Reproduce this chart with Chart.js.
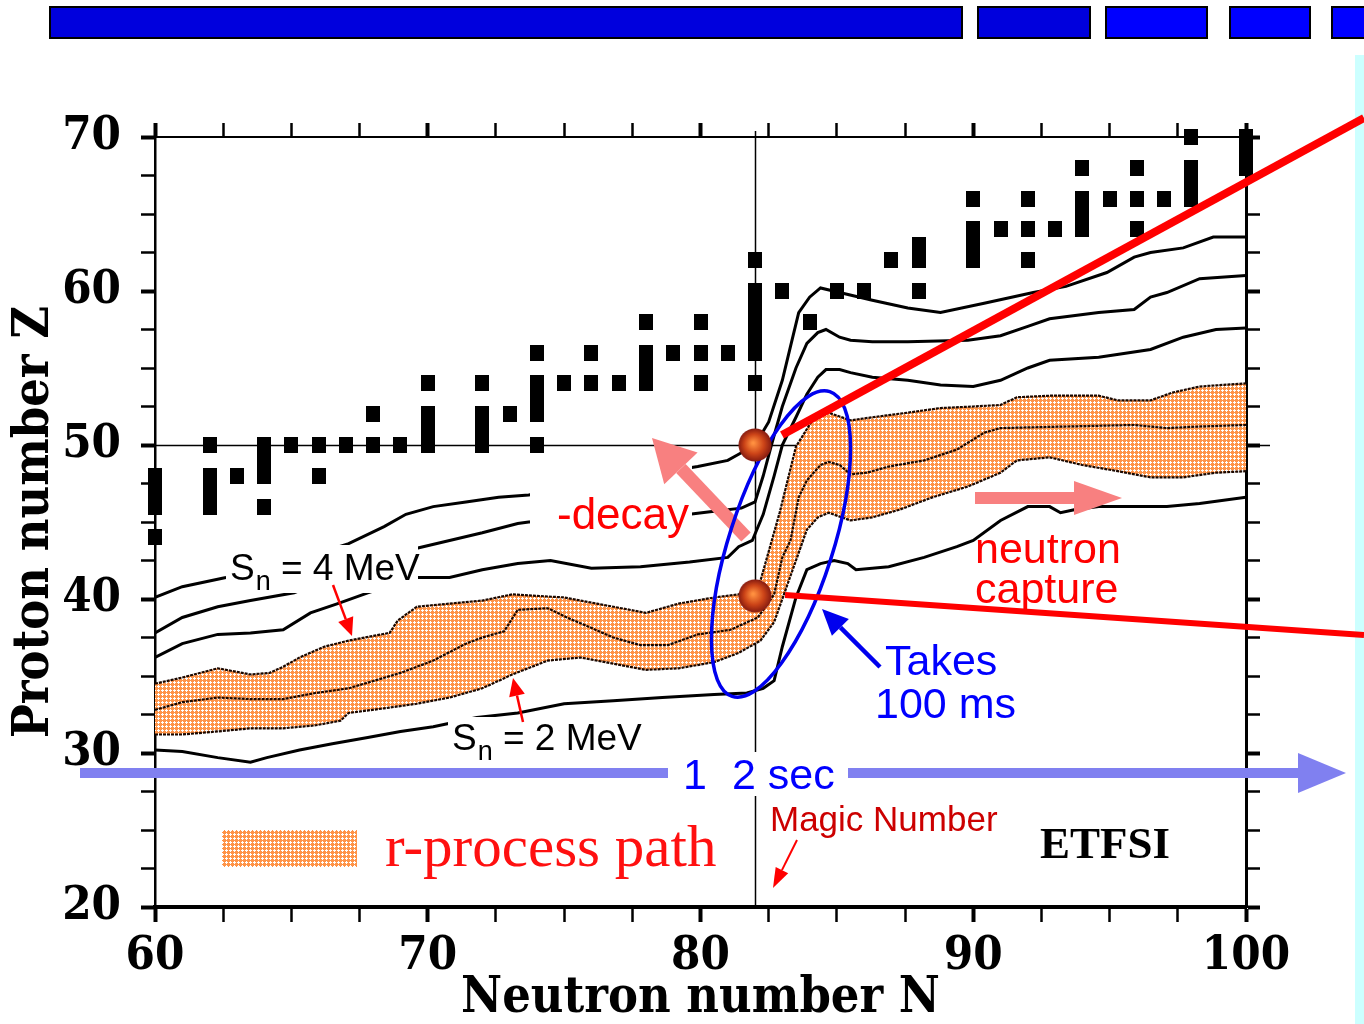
<!DOCTYPE html>
<html>
<head>
<meta charset="utf-8">
<script src="https://cdn.jsdelivr.net/npm/chart.js@4.4.1/dist/chart.umd.min.js"></script>
<style>
  html, body { margin: 0; padding: 0; background: #fff; }
</style>
</head>
<body>
<canvas id="chart" width="1364" height="1024"></canvas>
<script>
// S_n contour lines (neutron number N, proton number Z), top to bottom
const sn7N = [60, 61, 62.6, 64, 65.5, 67.1, 68.4, 69.2, 70.2, 71.4, 72.6, 73.7, 75.5, 77.5, 79.9, 81, 81.4, 82, 82.5, 83, 83.3, 83.6, 84, 84.4, 85.1, 86.3, 87.6, 88.8, 90.4, 92.2, 93.4, 94.9, 95.9, 96.5, 97.7, 98.8, 100];
const sn7Z = [40.1, 40.8, 41.4, 42.0, 42.7, 43.6, 44.7, 45.5, 46, 46.3, 46.6, 46.75, 47.3, 47.9, 48.6, 49, 49.4, 50, 51.5, 54.2, 56.4, 58.6, 59.6, 60.2, 59.9, 59.4, 58.9, 58.6, 59.2, 59.9, 60.3, 61.2, 62.2, 62.5, 62.8, 63.5, 63.5];

const sn6N = [60, 61, 62.3, 63.5, 65.1, 66.5, 68, 69.6, 70.8, 72, 73.3, 73.7, 76, 78, 79.6, 80.5, 81.5, 82, 82.3, 82.6, 83, 83.5, 83.9, 84.3, 84.6, 85.1, 85.5, 86.3, 87.6, 89.8, 91, 92, 92.8, 94.6, 95.9, 96.5, 97.1, 98.3, 100];
const sn6Z = [37.8, 38.8, 39.5, 39.9, 40.4, 41.4, 42.4, 43.3, 43.8, 44.3, 44.9, 45.0, 45.2, 45.4, 45.5, 45.7, 45.9, 46.3, 48, 50, 52.5, 55, 56.6, 57.3, 57.5, 57, 56.8, 56.7, 56.7, 56.8, 57.1, 57.7, 58.2, 58.6, 58.8, 59.6, 59.9, 60.8, 61];

const sn5N = [60, 61, 62.3, 63.5, 64.7, 65.7, 66.7, 67.8, 69.6, 70.8, 72, 73.3, 74.5, 76, 77.8, 79.6, 81, 81.4, 81.9, 82.3, 82.7, 83, 83.5, 83.9, 84.3, 84.6, 85.1, 85.5, 86.3, 87.6, 88.8, 90, 91, 92, 92.8, 94.6, 96.5, 97.7, 98.9, 100];
const sn5Z = [36.2, 37.1, 37.7, 37.8, 38, 39.1, 39.7, 40.4, 41.4, 41.4, 41.9, 42.3, 42.5, 42, 42.1, 42.4, 42.7, 43.4, 43.8, 45.5, 48, 50, 51.8, 53.3, 54.4, 54.9, 54.9, 54.7, 54.4, 54.2, 53.9, 53.8, 54.2, 55, 55.5, 55.7, 56.2, 57, 57.5, 57.6];

// r-process path: upper edge (4 MeV), middle (3 MeV), lower edge (2 MeV)
const sn4N = [60, 61, 62.3, 62.9, 63.5, 64.2, 64.7, 65.3, 66.2, 67.1, 68.6, 68.9, 69.6, 70.8, 72, 73.1, 75, 76.2, 78, 79.2, 80.5, 81.4, 82.2, 82.9, 83.5, 84.1, 84.7, 85.5, 86.3, 87.6, 88.8, 90, 91, 91.6, 92.8, 94.6, 95.3, 96.5, 97.3, 98.3, 100];
const sn4Z = [34.5, 34.9, 35.5, 35.3, 35.1, 35.2, 35.6, 36.2, 36.9, 37.3, 37.8, 38.6, 39.5, 39.7, 39.9, 40.3, 40.1, 39.7, 39.1, 39.7, 40.1, 40.3, 41.2, 45.6, 49.9, 51.6, 52.1, 51.6, 51.8, 52.1, 52.4, 52.5, 52.6, 53.1, 53.2, 53.2, 52.9, 52.9, 53.4, 53.8, 54];

const sn3N = [60, 61, 62.3, 63.5, 64.7, 65.9, 67.1, 69, 70.2, 71.4, 72, 72.8, 73.3, 74.4, 75.1, 75.9, 76.8, 77.8, 78.8, 79.9, 81.1, 82.1, 82.7, 83, 83.3, 83.6, 83.9, 84.4, 84.7, 85.1, 85.5, 86.1, 86.9, 88.2, 89.4, 90.4, 91, 93.4, 95.9, 97.1, 98.3, 100];
const sn3Z = [32.8, 33.3, 33.6, 33.5, 33.5, 33.9, 34.2, 35.2, 36, 37.1, 37.5, 37.9, 39.3, 39.4, 38.8, 38.2, 37.5, 37, 37, 37.7, 38, 38.8, 40.3, 42.7, 43.8, 46.6, 47.7, 48.7, 48.9, 48.7, 48.1, 48.2, 48.6, 49, 49.7, 50.8, 51.1, 51.2, 51.3, 51.1, 51.2, 51.3];

const sn2N = [60, 61, 62.3, 63.5, 64.7, 65.9, 66.8, 67.1, 68.4, 69.6, 70.8, 72, 73.1, 74.4, 75.6, 76.8, 78, 79.2, 80.5, 81.4, 82.2, 82.7, 83.1, 83.5, 83.9, 84.3, 84.7, 85.5, 86.3, 87.3, 88.5, 89.8, 91, 91.6, 92.8, 94, 95.3, 96.5, 97.7, 98.9, 100];
const sn2Z = [31.2, 31.2, 31.4, 31.6, 31.6, 31.8, 32.1, 32.6, 32.9, 33.2, 33.6, 34.2, 35.1, 36, 36.2, 35.8, 35.4, 35.5, 35.9, 36.5, 37.3, 38.5, 40.5, 42.5, 44.5, 45.3, 45.6, 45.1, 45.3, 45.8, 46.6, 47.3, 48.2, 49, 49.2, 48.7, 48.3, 47.9, 47.9, 48.2, 48.3];

const sn1N = [60, 61, 62.3, 63.5, 64.1, 65.3, 66.5, 67.8, 69, 70.2, 71.8, 73.3, 75, 76.8, 78.6, 80.5, 81.7, 82.3, 82.7, 83, 83.5, 83.9, 84.4, 84.9, 85.4, 85.7, 86.9, 88.2, 89.4, 90, 91, 92, 92.8, 93.2, 93.7, 94.6, 97.1, 98.3, 100];
const sn1Z = [30.2, 30.1, 29.7, 29.4, 29.7, 30.2, 30.6, 31, 31.4, 31.7, 32.3, 32.6, 33.2, 33.4, 33.6, 33.8, 33.9, 34.2, 34.7, 36.9, 40.1, 41.9, 42.3, 42.5, 42.3, 41.9, 42.1, 42.7, 43.4, 43.8, 45.1, 46, 46, 45.6, 45.8, 46, 46, 46.2, 46.6];

// stable nuclei (black squares)
const stableN = [60, 60, 62, 64, 60, 62, 60, 62, 63, 64, 66, 64,
  62, 64, 65, 66, 67, 68, 69, 70, 72, 74, 70, 72, 68, 70, 72, 73, 74, 74,
  70, 72, 74, 75, 76, 77, 78, 80, 82, 78, 74, 76, 78, 79, 80, 81, 82, 82,
  78, 80, 82, 84, 82, 82, 83, 85, 86, 88, 82, 87, 88, 90, 92, 88, 90,
  90, 91, 92, 93, 94, 96, 94, 90, 92, 94, 95, 96, 97, 98, 98, 94, 96, 98, 100, 100, 98, 100];
const stableZ = [44, 46, 46, 46, 47, 47, 48, 48, 48, 48, 48, 49,
  50, 50, 50, 50, 50, 50, 50, 50, 50, 50, 51, 51, 52, 52, 52, 52, 52, 53,
  54, 54, 54, 54, 54, 54, 54, 54, 54, 55, 56, 56, 56, 56, 56, 56, 56, 57,
  58, 58, 58, 58, 59, 60, 60, 60, 60, 60, 62, 62, 62, 62, 62, 63, 63,
  64, 64, 64, 64, 64, 64, 65, 66, 66, 66, 66, 66, 66, 66, 67, 68, 68, 68, 68, 69, 70, 70];

// waiting points at the magic number N = 82
const waitN = [82, 82];
const waitZ = [50, 40.2];

const xTicksMin = 60, xTicksMax = 100, yTicksMin = 20, yTicksMax = 70;

const pts = (ns, zs) => ns.map((n, i) => ({ x: n, y: zs[i] }));

const canvas = document.getElementById('chart');
const ctx0 = canvas.getContext('2d');

// orange cross-hatch used for the r-process band
function makeHatch() {
  const c = document.createElement('canvas');
  c.width = 4; c.height = 4;
  const g = c.getContext('2d');
  g.fillStyle = '#ff9448';
  g.fillRect(0, 0, 4, 4);
  g.fillStyle = '#ffffff';
  g.fillRect(2, 1, 1, 3);
  g.fillRect(1, 2, 3, 1);
  return ctx0.createPattern(c, 'repeat');
}
const hatch = makeHatch();

function makeSquare() {
  const c = document.createElement('canvas');
  c.width = 14; c.height = 16;
  const g = c.getContext('2d');
  g.fillStyle = '#000';
  g.fillRect(0, 0, 14, 16);
  return c;
}

function makeBall() {
  const c = document.createElement('canvas');
  c.width = 34; c.height = 34;
  const g = c.getContext('2d');
  const gr = g.createRadialGradient(15, 15, 1, 17, 17, 17);
  gr.addColorStop(0, '#ff9040');
  gr.addColorStop(0.55, '#cc4418');
  gr.addColorStop(1, '#801810');
  g.fillStyle = gr;
  g.beginPath();
  g.arc(17, 17, 16.5, 0, Math.PI * 2);
  g.fill();
  return c;
}

function arrow(ctx, x1, y1, x2, y2, w, headLen, headHalf, color) {
  const a = Math.atan2(y2 - y1, x2 - x1);
  const bx = x2 - headLen * Math.cos(a), by = y2 - headLen * Math.sin(a);
  ctx.strokeStyle = color;
  ctx.lineWidth = w;
  ctx.lineCap = 'butt';
  ctx.beginPath(); ctx.moveTo(x1, y1); ctx.lineTo(bx, by); ctx.stroke();
  ctx.fillStyle = color;
  ctx.beginPath();
  ctx.moveTo(x2, y2);
  ctx.lineTo(bx + headHalf * Math.sin(a), by - headHalf * Math.cos(a));
  ctx.lineTo(bx - headHalf * Math.sin(a), by + headHalf * Math.cos(a));
  ctx.closePath();
  ctx.fill();
}

const SANS = '"Liberation Sans", Arial, sans-serif';
const SERIF = '"Liberation Serif", "Times New Roman", serif';

function snLabel(ctx, x, y, val) {
  ctx.fillStyle = '#000';
  ctx.textBaseline = 'alphabetic';
  ctx.textAlign = 'left';
  ctx.font = '37px ' + SANS;
  ctx.fillText('S', x, y);
  let w = ctx.measureText('S').width;
  ctx.font = '27px ' + SANS;
  ctx.fillText('n', x + w + 1, y + 10);
  w += ctx.measureText('n').width + 1;
  ctx.font = '37px ' + SANS;
  ctx.fillText(' = ' + val + ' MeV', x + w, y);
}

function text(ctx, s, x, y, font, color) {
  ctx.font = font;
  ctx.fillStyle = color;
  ctx.textAlign = 'left';
  ctx.textBaseline = 'alphabetic';
  ctx.fillText(s, x, y);
}

function drawNotes(chart) {
  const ctx = chart.ctx;
  ctx.save();

  // white boxes behind labels
  ctx.fillStyle = '#fff';
  ctx.fillRect(226, 545, 192, 48);
  ctx.fillRect(448, 717, 192, 44);
  ctx.fillRect(530, 466, 162, 74);

  snLabel(ctx, 230, 580, 4);
  snLabel(ctx, 452, 750, 2);
  arrow(ctx, 333, 585, 352, 636, 2.5, 18, 8, '#ff0000');
  arrow(ctx, 523, 722, 513, 678, 2.5, 18, 8, '#ff0000');

  text(ctx, '-decay', 557, 529, '44px ' + SANS, '#ff0000');
  arrow(ctx, 746, 537, 652, 438, 13, 42, 23, '#f88080');

  text(ctx, 'neutron', 975, 563, '43px ' + SANS, '#ff0000');
  text(ctx, 'capture', 975, 603, '43px ' + SANS, '#ff0000');
  arrow(ctx, 975, 498, 1122, 498, 12, 48, 17, '#f88080');

  // 100 ms ellipse round the N = 82 climb
  ctx.strokeStyle = '#0000ee';
  ctx.lineWidth = 3.5;
  ctx.beginPath();
  ctx.ellipse(781, 544, 52, 160, 0.31, 0, Math.PI * 2);
  ctx.stroke();
  text(ctx, 'Takes', 885, 675, '43px ' + SANS, '#0000ff');
  text(ctx, '100 ms', 875, 718, '43px ' + SANS, '#0000ff');
  arrow(ctx, 880, 667, 822, 609, 4.5, 26, 12, '#0000ee');

  // red zoom lines from the waiting points
  ctx.strokeStyle = '#ff0000';
  ctx.lineCap = 'butt';
  ctx.lineWidth = 8;
  ctx.beginPath(); ctx.moveTo(782, 435); ctx.lineTo(1364, 118); ctx.stroke();
  ctx.lineWidth = 6;
  ctx.beginPath(); ctx.moveTo(785, 595); ctx.lineTo(1364, 635); ctx.stroke();

  // time arrow
  arrow(ctx, 80, 773, 1346, 773, 10, 48, 20, '#8080f0');
  ctx.fillStyle = '#fff';
  ctx.fillRect(668, 752, 180, 44);
  text(ctx, '1', 683, 789, '43px ' + SANS, '#0000ff');
  text(ctx, '2 sec', 732, 789, '43px ' + SANS, '#0000ff');

  text(ctx, 'Magic Number', 770, 831, '35px ' + SANS, '#cc0000');
  arrow(ctx, 797, 840, 773, 888, 2, 20, 7, '#ff0000');

  ctx.fillStyle = hatch;
  ctx.fillRect(222, 830, 135, 37);
  text(ctx, 'r-process path', 385, 866, '59px ' + SERIF, '#ff1010');
  text(ctx, 'ETFSI', 1040, 858, 'bold 45px ' + SERIF, '#000');

  ctx.restore();
}

const decor = {
  id: 'decor',
  beforeDraw(chart) {
    const ctx = chart.ctx;
    ctx.save();
    ctx.fillStyle = '#fff';
    ctx.fillRect(0, 0, chart.width, chart.height);
    ctx.fillStyle = '#ccffff';
    ctx.fillRect(1355, 55, 9, chart.height - 55);
    ctx.restore();
  },
  beforeDatasetsDraw(chart) {
    const ctx = chart.ctx;
    const x = chart.scales.x, y = chart.scales.y;
    ctx.save();
    ctx.strokeStyle = '#000';
    ctx.lineWidth = 1.5;
    ctx.beginPath();
    ctx.moveTo(Math.round(x.getPixelForValue(82)) + 0.5, chart.chartArea.top - 6);
    ctx.lineTo(Math.round(x.getPixelForValue(82)) + 0.5, chart.chartArea.bottom);
    ctx.moveTo(chart.chartArea.left, Math.round(y.getPixelForValue(50)) + 0.5);
    ctx.lineTo(chart.chartArea.right + 24, Math.round(y.getPixelForValue(50)) + 0.5);
    ctx.stroke();
    ctx.restore();
  },
  afterDatasetDraw(chart, args) {
    if (chart.data.datasets[args.index].label === 'stable') drawNotes(chart);
  },
  afterDraw(chart) {
    const ctx = chart.ctx;
    ctx.save();
    const bars = [[50, 912, '#0000dd'], [978, 112, '#0000dd'], [1106, 101, '#0000ff'], [1230, 80, '#0000ff'], [1332, 40, '#0000ff']];
    bars.forEach(([bx, bw, c]) => {
      ctx.fillStyle = c;
      ctx.fillRect(bx, 7, bw, 31);
      ctx.strokeStyle = '#000';
      ctx.lineWidth = 2;
      ctx.strokeRect(bx, 7, bw, 31);
    });
    ctx.restore();
  }
};

const outer = { borderColor: '#000', borderWidth: 3, pointRadius: 0, fill: false, tension: 0 };
const inner = { borderColor: '#1a0800', borderWidth: 2.2, borderDash: [3, 1], pointRadius: 0, tension: 0 };

const tickFont = { family: '"DejaVu Serif Condensed", "DejaVu Serif", serif', size: 47, weight: 'bold' };
const titleFont = { family: '"DejaVu Serif Condensed", "DejaVu Serif", serif', size: 50, weight: 'bold', lineHeight: 1 };
const majorW = (c) => (c.tick && c.tick.value % 10 === 0 ? 4 : 2.5);

new Chart(canvas, {
  type: 'line',
  data: {
    datasets: [
      Object.assign({ label: 'Sn4', data: pts(sn4N, sn4Z), fill: { target: 2 }, backgroundColor: hatch, order: 9 }, inner),
      Object.assign({ label: 'Sn3', data: pts(sn3N, sn3Z), fill: false, order: 8 }, inner),
      Object.assign({ label: 'Sn2', data: pts(sn2N, sn2Z), fill: false, order: 7 }, inner),
      Object.assign({ label: 'Sn1', data: pts(sn1N, sn1Z), order: 6 }, outer),
      Object.assign({ label: 'Sn5', data: pts(sn5N, sn5Z), order: 5 }, outer),
      Object.assign({ label: 'Sn6', data: pts(sn6N, sn6Z), order: 4 }, outer),
      Object.assign({ label: 'Sn7', data: pts(sn7N, sn7Z), order: 3 }, outer),
      { label: 'stable', data: pts(stableN, stableZ), showLine: false, pointStyle: makeSquare(), pointRadius: 8, clip: false, order: 2 },
      { label: 'wait', data: pts(waitN, waitZ), showLine: false, pointStyle: makeBall(), pointRadius: 17, clip: false, order: 1 }
    ]
  },
  options: {
    responsive: false,
    animation: false,
    events: [],
    layout: { padding: 0 },
    plugins: { legend: { display: false }, tooltip: { enabled: false } },
    scales: {
      x: {
        type: 'linear', position: 'bottom', min: xTicksMin, max: xTicksMax,
        afterFit: (s) => { s.height = 117; },
        ticks: { stepSize: 2.5, autoSkip: false, maxRotation: 0, padding: 7, color: '#000', font: tickFont,
          callback: (v) => (v % 10 === 0 ? String(v) : '') },
        grid: { drawOnChartArea: false, drawTicks: true, tickLength: 15, tickColor: '#000', tickWidth: majorW },
        border: { display: true, color: '#000', width: 4 },
        title: { display: true, text: 'Neutron number N', color: '#000', font: titleFont, padding: { top: 0, bottom: 0 } }
      },
      x2: {
        type: 'linear', position: 'top', min: xTicksMin, max: xTicksMax,
        afterFit: (s) => { s.height = 137; },
        ticks: { stepSize: 2.5, autoSkip: false, display: false },
        grid: { drawOnChartArea: false, drawTicks: true, tickLength: 14, tickColor: '#000', tickWidth: majorW },
        border: { display: true, color: '#000', width: 2 }
      },
      y: {
        type: 'linear', position: 'left', min: yTicksMin, max: yTicksMax,
        afterFit: (s) => { s.width = 155; },
        ticks: { stepSize: 2.5, autoSkip: false, padding: 20, color: '#000', font: tickFont,
          callback: (v) => (v % 10 === 0 ? String(v) : '') },
        grid: { drawOnChartArea: false, drawTicks: true, tickLength: 14, tickColor: '#000', tickWidth: majorW },
        border: { display: true, color: '#000', width: 2.5 },
        title: { display: true, text: 'Proton number Z', color: '#000', font: titleFont, padding: { top: 10, bottom: 0 } }
      },
      y2: {
        type: 'linear', position: 'right', min: yTicksMin, max: yTicksMax,
        afterFit: (s) => { s.width = 118; },
        ticks: { stepSize: 2.5, autoSkip: false, display: false },
        grid: { drawOnChartArea: false, drawTicks: true, tickLength: 14, tickColor: '#000', tickWidth: majorW },
        border: { display: true, color: '#000', width: 3 }
      }
    }
  },
  plugins: [decor]
});
</script>
</body>
</html>
